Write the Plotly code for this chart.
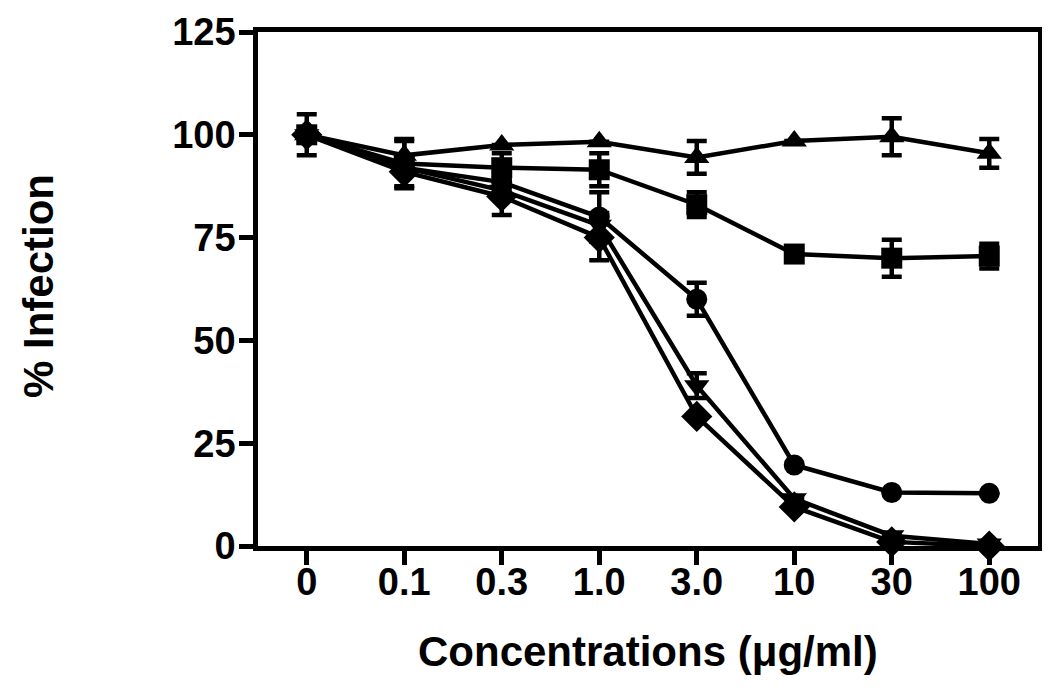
import plotly.graph_objects as go

conc = ["0", "0.1", "0.3", "1.0", "3.0", "10", "30", "100"]

tri_up = [100, 95, 97.5, 98.3, 94.5, 98.5, 99.5, 95.5]
tri_up_err = [0, 4, 0, 0, 4, 0, 4.5, 3.5]
square = [100, 93, 92, 91.5, 83, 71, 70, 70.5]
square_err = [5, 5.5, 3.5, 4, 3, 0, 4.5, 3]
circle = [100, 92, 88.5, 80, 60, 19.7, 13, 12.8]
circle_err = [0, 0, 0, 6, 4, 0, 0, 0]
tri_down = [100, 92, 86.5, 78, 39, 11.5, 2.5, 0.5]
tri_down_err = [0, 0, 0, 3, 3, 0, 0, 0]
diamond = [100, 91, 85, 75, 31.5, 9.5, 1, 0]
diamond_err = [0, 4, 4.5, 5.5, 0, 0, 0, 0]

y_ticks = [0, 25, 50, 75, 100, 125]

FONT = "Liberation Sans, Arial, Helvetica, sans-serif"

series = [
    (tri_up, tri_up_err, "triangle-up", 22),
    (square, square_err, "square", 21),
    (circle, circle_err, "circle", 21),
    (tri_down, tri_down_err, "triangle-down", 22),
    (diamond, diamond_err, "diamond", 24),
]

fig = go.Figure()
for vals, errs, sym, size in series:
    err = [e if e > 0 else None for e in errs]
    fig.add_trace(go.Scatter(
        x=conc, y=vals, mode="lines+markers",
        line=dict(color="black", width=4.5),
        marker=dict(symbol=sym, size=size, color="black", line=dict(width=0)),
        error_y=dict(type="data", array=err, visible=True, color="black",
                     thickness=4.5, width=10),
        cliponaxis=False, showlegend=False,
    ))

L, R, T, B = 250, 20, 24, 153
PW, PH = 1050 - L - R, 691 - T - B

fig.update_layout(
    width=1050, height=691,
    margin=dict(l=L, r=R, t=T, b=B),
    plot_bgcolor="white", paper_bgcolor="white",
    font=dict(family=FONT, color="black", size=38, weight="bold"),
    xaxis=dict(
        type="category", range=[-0.5, 7.5], automargin=False,
        showline=True, linecolor="black", linewidth=4.5, mirror=True,
        ticks="outside", ticklen=14, tickwidth=4.5, tickcolor="black",
        showgrid=False, zeroline=False, ticklabelstandoff=-15,
        ticklabeloverflow="allow",
        tickfont=dict(size=38, family=FONT, weight="bold"),
    ),
    yaxis=dict(
        range=[0, 125], tickvals=y_ticks, automargin=False,
        showline=True, linecolor="black", linewidth=4.5, mirror=True,
        ticks="outside", ticklen=14, tickwidth=4.5, tickcolor="black",
        showgrid=False, zeroline=False, ticklabelstandoff=-4,
        ticklabeloverflow="allow",
        tickfont=dict(size=38, family=FONT, weight="bold"),
    ),
    annotations=[
        dict(text="Concentrations (\u03bcg/ml)", xref="paper", yref="paper",
             x=(648 - 258) / PW, y=-(650 - 545) / PH,
             xanchor="center", yanchor="middle", showarrow=False,
             font=dict(size=42, family=FONT, weight="bold", color="black")),
        dict(text="% Infection", xref="paper", yref="paper",
             x=-(258 - 38) / PW, y=(545 - 285) / PH, textangle=-90,
             xanchor="center", yanchor="middle", showarrow=False,
             font=dict(size=42, family=FONT, weight="bold", color="black")),
    ],
)

fig.write_html("out.html")
